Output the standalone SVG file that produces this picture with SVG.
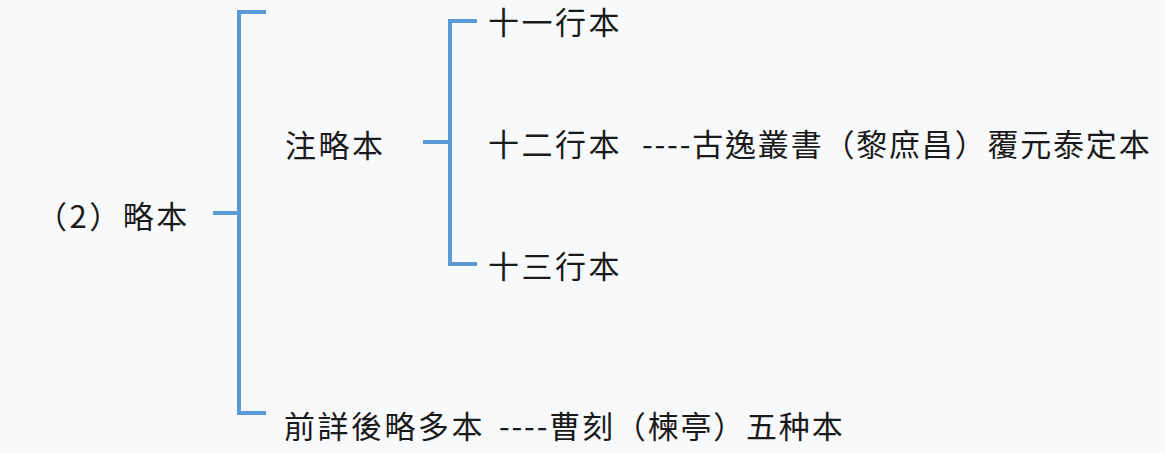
<svg xmlns="http://www.w3.org/2000/svg" width="1165" height="453" viewBox="0 0 1165 453">
<style>
.t{font-family:"Noto Sans CJK TC","Noto Sans CJK SC",sans-serif;font-size:31px;fill:#1a1a1a;letter-spacing:2.5px}
.n{letter-spacing:1.8px}
.c{stroke:#5b9bd5;stroke-width:4;fill:none}
</style>
<rect width="1165" height="453" fill="#f8f9fb"/>
<g id="connectors">
<path class="c" d="M266 12 H239 V413 H266"/>
<path class="c" d="M213 213 H239"/>
<path class="c" d="M477 21 H450 V264 H477"/>
<path class="c" d="M423 142 H450"/>
</g>
<g id="root"><text class="t" x="36" y="228">（2）略本</text></g>
<g id="zhulue"><text class="t" x="285" y="157">注略本</text></g>
<g id="shiyi"><text class="t" x="488" y="34">十一行本</text></g>
<g id="shier"><text class="t" x="488" y="156">十二行本<tspan class="n" x="642">----古逸叢書（黎庶昌）覆元泰定本</tspan></text></g>
<g id="shisan"><text class="t" x="488" y="278">十三行本</text></g>
<g id="qianxiang"><text class="t" x="284" y="438">前詳後略多本<tspan class="n" x="499">----曹刻（楝亭）五种本</tspan></text></g>
</svg>
